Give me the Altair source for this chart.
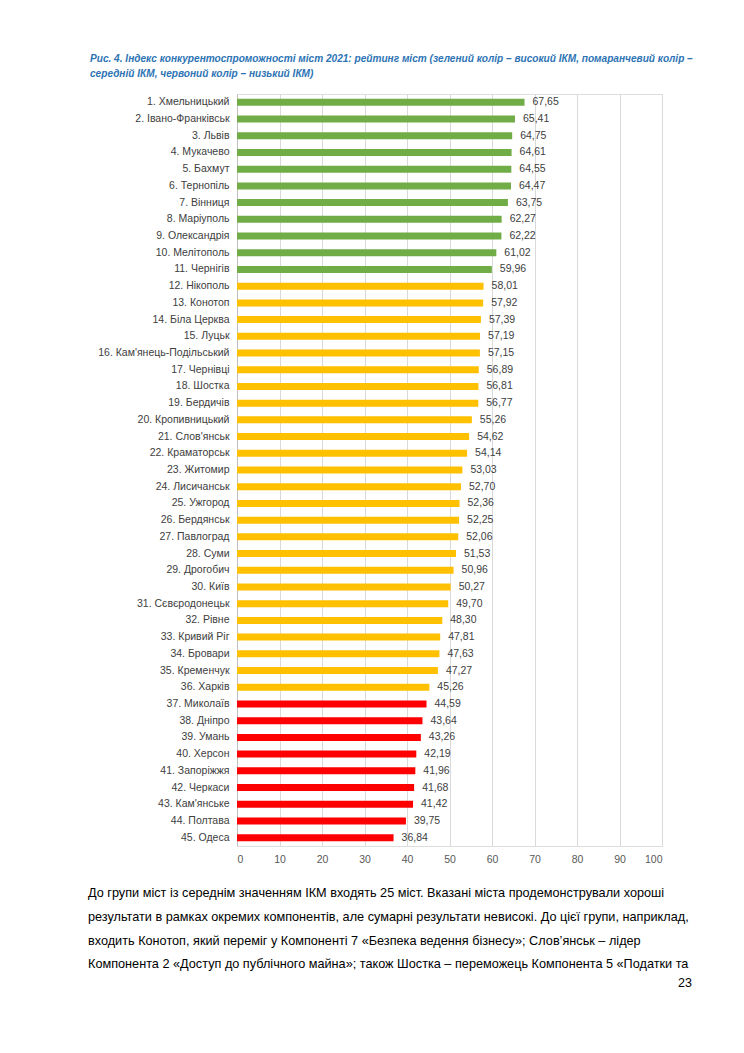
import altair as alt
import pandas as pd

cities = ["1. Хмельницький", "2. Івано-Франківськ", "3. Львів", "4. Мукачево", "5. Бахмут",
          "6. Тернопіль", "7. Вінниця", "8. Маріуполь", "9. Олександрія", "10. Мелітополь",
          "11. Чернігів", "12. Нікополь", "13. Конотоп", "14. Біла Церква", "15. Луцьк",
          "16. Кам'янець-Подільський", "17. Чернівці", "18. Шостка", "19. Бердичів",
          "20. Кропивницький", "21. Слов'янськ", "22. Краматорськ", "23. Житомир",
          "24. Лисичанськ", "25. Ужгород", "26. Бердянськ", "27. Павлоград", "28. Суми",
          "29. Дрогобич", "30. Київ", "31. Сєвєродонецьк", "32. Рівне", "33. Кривий Ріг",
          "34. Бровари", "35. Кременчук", "36. Харків", "37. Миколаїв", "38. Дніпро",
          "39. Умань", "40. Херсон", "41. Запоріжжя", "42. Черкаси", "43. Кам'янське",
          "44. Полтава", "45. Одеса"]
values = [67.65, 65.41, 64.75, 64.61, 64.55, 64.47, 63.75, 62.27, 62.22, 61.02,
          59.96, 58.01, 57.92, 57.39, 57.19, 57.15, 56.89, 56.81, 56.77, 55.26,
          54.62, 54.14, 53.03, 52.70, 52.36, 52.25, 52.06, 51.53, 50.96, 50.27,
          49.70, 48.30, 47.81, 47.63, 47.27, 45.26, 44.59, 43.64, 43.26, 42.19,
          41.96, 41.68, 41.42, 39.75, 36.84]
groups = ["high"] * 11 + ["mid"] * 25 + ["low"] * 9
group_names = ["high", "mid", "low"]
group_colors = ["#70AD47", "#FFC000", "#FF0000"]
x_ticks = [0, 10, 20, 30, 40, 50, 60, 70, 80, 90, 100]

title_lines = [
    "Рис.  4. Індекс конкурентоспроможності міст 2021: рейтинг міст  (зелений колір – високий ІКМ, помаранчевий колір –",
    "середній ІКМ, червоний колір – низький ІКМ)",
]
para_lines = [
    "До групи міст із середнім значенням ІКМ входять 25 міст. Вказані міста продемонстрували хороші",
    "результати в рамках окремих компонентів, але сумарні результати невисокі. До цієї групи, наприклад,",
    "входить Конотоп, який переміг у Компоненті 7 «Безпека ведення бізнесу»; Слов’янськ – лідер",
    "Компонента 2 «Доступ до публічного майна»; також Шостка – переможець Компонента 5 «Податки та",
]
page_number = "23"

df = pd.DataFrame({
    "city": cities,
    "value": values,
    "group": groups,
    "label": [f"{v:.2f}".replace(".", ",") for v in values],
})

FONT = "Liberation Sans"
W, H = 425, 752
LEFT, TOP = 229, 86

y_enc = alt.Y("city:N", sort=cities, title=None,
              scale=alt.Scale(paddingInner=0.58, paddingOuter=0.29),
              axis=alt.Axis(ticks=False, domain=True, domainColor="#BFBFBF",
                            labelFont=FONT, labelFontSize=10.5, labelColor="#404040",
                            labelPadding=8, labelLimit=300))
x_enc = alt.X("value:Q", title=None,
              scale=alt.Scale(domain=[0, 100], nice=False),
              axis=alt.Axis(values=x_ticks, grid=True, gridColor="#D9D9D9",
                            domain=False, ticks=False, labelFont=FONT,
                            labelFontSize=10.5, labelColor="#595959", labelPadding=8))

bars = alt.Chart(df).mark_bar(size=7).encode(
    y=y_enc, x=x_enc,
    color=alt.Color("group:N", scale=alt.Scale(domain=group_names, range=group_colors),
                    legend=None),
)
labels = alt.Chart(df).mark_text(align="left", baseline="middle", dx=8, font=FONT,
                                 fontSize=10.5, color="#404040").encode(
    y=alt.Y("city:N", sort=cities), x="value:Q", text="label:N")


def text_line(txt, px, py, align="left", **kw):
    d = pd.DataFrame({"t": [txt]})
    return alt.Chart(d).mark_text(align=align, baseline="middle", font=FONT, **kw).encode(
        text="t:N", x=alt.value(px - 8 - LEFT), y=alt.value(py - 8 - TOP))


layers = [bars, labels]
for txt, py in zip(title_lines, [59, 74]):
    layers.append(text_line(txt, 90, py, fontSize=10.1, fontStyle="italic",
                            fontWeight="bold", color="#2E74B5"))
for txt, py in zip(para_lines, [893, 917, 941, 964]):
    layers.append(text_line(txt, 88, py, fontSize=12.7, color="#000000"))
layers.append(text_line(page_number, 692, 983, align="right", fontSize=12.5, color="#000000"))

chart = alt.layer(*layers).properties(
    width=W, height=H,
    autosize=alt.AutoSizeParams(type="none"),
    padding={"left": LEFT, "top": TOP, "right": 744 - 16 - LEFT - W, "bottom": 1000 - TOP - H},
).configure_view(stroke=None).configure(background="white")

chart.save("out.html", embed_options={"renderer": "svg", "actions": False})
